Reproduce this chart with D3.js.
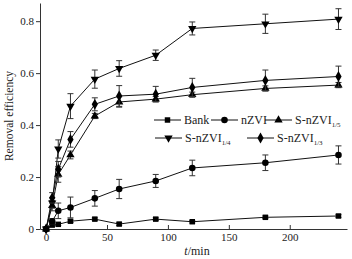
<!DOCTYPE html>
<html><head><meta charset="utf-8">
<script src="https://cdn.jsdelivr.net/npm/d3@7"></script>
<style>body{margin:0;background:#fff}svg{display:block}text{font-family:"Liberation Serif","Times New Roman",serif;fill:#222}</style>
</head><body><svg id="c" width="352" height="259"></svg>
<script>
const times = [0, 5, 10, 20, 40, 60, 90, 120, 180, 240];
const bank = [0, 0.015, 0.018, 0.03, 0.038, 0.019, 0.038, 0.028, 0.045, 0.05];
const bankErr = [0, 0.005, 0.005, 0.005, 0.005, 0.005, 0.005, 0.005, 0.005, 0.005];
const nzvi = [0, 0.03, 0.07, 0.083, 0.118, 0.154, 0.185, 0.235, 0.255, 0.285];
const nzviErr = [0, 0.01, 0.03, 0.04, 0.03, 0.037, 0.025, 0.03, 0.03, 0.035];
const s15 = [0, 0.09, 0.21, 0.285, 0.435, 0.489, 0.5, 0.517, 0.541, 0.554];
const s15Err = [0, 0.02, 0.03, 0.015, 0.01, 0.02, 0.01, 0.01, 0.01, 0.01];
const s14 = [0, 0.1, 0.308, 0.473, 0.577, 0.618, 0.669, 0.772, 0.79, 0.808];
const s14Err = [0, 0.02, 0.035, 0.048, 0.035, 0.03, 0.02, 0.025, 0.037, 0.04];
const s13 = [0, 0.12, 0.23, 0.345, 0.48, 0.512, 0.519, 0.545, 0.572, 0.587];
const s13Err = [0, 0.02, 0.03, 0.03, 0.025, 0.04, 0.03, 0.035, 0.04, 0.04];
const seriesNames = ["Bank", "nZVI", "S-nZVI", "S-nZVI", "S-nZVI"];
const seriesSubs = ["", "", "1/5", "1/4", "1/3"];
const xTicks = [0, 50, 100, 150, 200];
const yTicks = [0, 0.2, 0.4, 0.6, 0.8];

const series = [
  {vals: bank, err: bankErr, sym: d3.symbolSquare, size: 30, rot: 0},
  {vals: nzvi, err: nzviErr, sym: d3.symbolCircle, size: 34, rot: 0},
  {vals: s15, err: s15Err, sym: d3.symbolTriangle, size: 30, rot: 0},
  {vals: s14, err: s14Err, sym: d3.symbolTriangle, size: 30, rot: 180},
  {vals: s13, err: s13Err, sym: d3.symbolDiamond, size: 34, rot: 0}
];

const svg = d3.select("#c");
const x = d3.scaleLinear().domain([-5, 247]).range([40, 347]);
const y = d3.scaleLinear().domain([0, 0.87]).range([229, 3]);

const gx = svg.append("g").attr("transform", "translate(0,229)")
  .call(d3.axisBottom(x).tickValues(xTicks).tickSize(-4).tickPadding(4).tickSizeOuter(0));
const gy = svg.append("g").attr("transform", "translate(40,0)")
  .call(d3.axisLeft(y).tickValues(yTicks).tickSize(4).tickPadding(2).tickSizeOuter(0)
    .tickFormat(d => d === 0 ? "0" : d.toFixed(1)));
[gx, gy].forEach(g => {
  g.select(".domain").attr("stroke", "#333");
  g.selectAll(".tick line").attr("stroke", "#333");
  g.selectAll("text").style("font-size", "11px").style("font-family", "'Liberation Serif',serif").attr("fill", "#222");
});

svg.append("text").attr("transform", "translate(13,116) rotate(-90)")
  .attr("text-anchor", "middle").style("font-size", "11.5px").text("Removal efficiency");
const xt = svg.append("text").attr("x", 197).attr("y", 255).attr("text-anchor", "middle").style("font-size", "12px");
xt.append("tspan").style("font-style", "italic").text("t");
xt.append("tspan").text("/min");

const line = d3.line().x((d, i) => x(times[i])).y(d => y(d));
const plot = svg.append("g");
series.forEach(s => {
  plot.append("path").datum(s.vals).attr("d", line).attr("fill", "none").attr("stroke", "#111").attr("stroke-width", 1);
});
series.forEach(s => {
  const g = plot.append("g");
  s.vals.forEach((v, i) => {
    const e = s.err[i];
    if (e > 0) {
      const cx = x(times[i]), y1 = y(v - e), y2 = y(v + e);
      g.append("line").attr("x1", cx).attr("x2", cx).attr("y1", y1).attr("y2", y2).attr("stroke", "#333");
      g.append("line").attr("x1", cx - 3).attr("x2", cx + 3).attr("y1", y1).attr("y2", y1).attr("stroke", "#333");
      g.append("line").attr("x1", cx - 3).attr("x2", cx + 3).attr("y1", y2).attr("y2", y2).attr("stroke", "#333");
    }
  });
  g.selectAll("path.m").data(s.vals).enter().append("path").attr("class", "m")
    .attr("d", d3.symbol().type(s.sym).size(s.size))
    .attr("transform", (d, i) => `translate(${x(times[i])},${y(d)}) rotate(${s.rot})`)
    .attr("fill", "#000");
});

const legPos = [[154, 120], [211, 120], [265, 120], [155, 138], [247, 138]];
series.forEach((s, k) => {
  const [lx, ly] = legPos[k];
  const g = svg.append("g").attr("transform", `translate(${lx},${ly})`);
  g.append("line").attr("x1", 0).attr("x2", 27).attr("y1", 0).attr("y2", 0).attr("stroke", "#111");
  g.append("path").attr("d", d3.symbol().type(s.sym).size(s.size)).attr("transform", `translate(13.5,0) rotate(${s.rot})`).attr("fill", "#000");
  const t = g.append("text").attr("x", 30).attr("y", 4).style("font-size", "12px");
  t.append("tspan").text(seriesNames[k]);
  if (seriesSubs[k]) t.append("tspan").attr("dy", 3).style("font-size", "7px").text(seriesSubs[k]);
});
</script></body></html>
